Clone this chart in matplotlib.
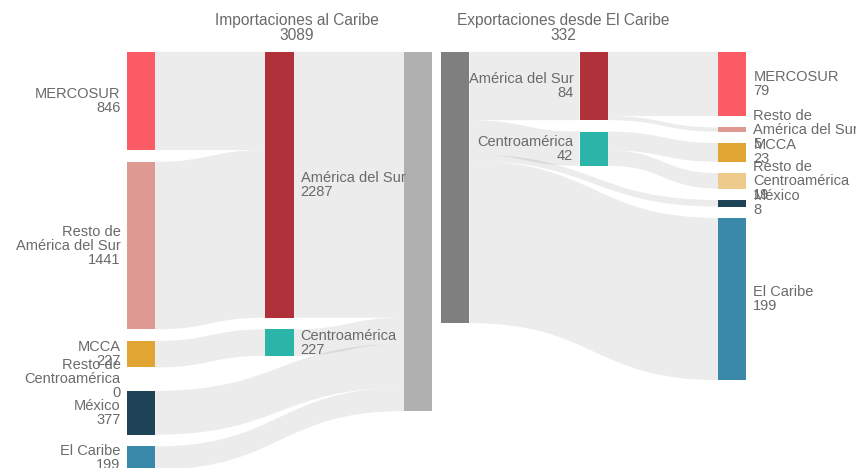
import matplotlib.pyplot as plt
from matplotlib.path import Path
from matplotlib.patches import PathPatch, Rectangle

plt.rcParams['font.family'] = ['Liberation Sans', 'DejaVu Sans']

# Importaciones al Caribe (origen -> subregion -> total)
imp_origen = ['MERCOSUR', 'Resto de\nAmérica del Sur', 'MCCA',
              'Resto de\nCentroamérica', 'México', 'El Caribe']
imp_origen_val = [846, 1441, 227, 0, 377, 199]
imp_origen_region = [0, 0, 1, 1, None, None]   # None = va directo al total
imp_region = ['América del Sur', 'Centroamérica']
imp_region_val = [2287, 227]
imp_total = 3089

# Exportaciones desde El Caribe (total -> subregion -> destino)
exp_region = ['América del Sur', 'Centroamérica']
exp_region_val = [84, 42]
exp_destino = ['MERCOSUR', 'Resto de\nAmérica del Sur', 'MCCA',
               'Resto de\nCentroamérica', 'México', 'El Caribe']
exp_destino_val = [79, 5, 23, 19, 8, 199]
exp_destino_region = [0, 0, 1, 1, None, None]
exp_total = 332

col_pais = ['#fc5c65', '#de9a92', '#e0a532', '#eccb8c', '#1e4256', '#3b89aa']
col_region = ['#b1313b', '#2bb5a8']
txt_color = '#6a6a6a'
link_color = (0, 0, 0, 0.075)
NODE_W = 0.205


def draw_sankey(ax, nodes, links, gap):
    # nodes: list of [label, col, color, side]; links: (src, tgt, value)
    n = len(nodes)
    vin = [0] * n
    vout = [0] * n
    for s, t, v in links:
        vout[s] += v
        vin[t] += v
    h = [max(vin[i], vout[i]) for i in range(n)]
    y = [0] * n
    tops = {}
    for i, nd in enumerate(nodes):
        c = nd[1]
        y[i] = tops.get(c, 0)
        tops[c] = y[i] + h[i] + gap

    # links, stacked by position of the other end
    out_off = list(y)
    in_off = list(y)
    s_pos = {}
    for k in sorted(range(len(links)), key=lambda k: y[links[k][1]]):
        s = links[k][0]
        s_pos[k] = out_off[s]
        out_off[s] += links[k][2]
    t_pos = {}
    for k in sorted(range(len(links)), key=lambda k: y[links[k][0]]):
        t = links[k][1]
        t_pos[k] = in_off[t]
        in_off[t] += links[k][2]
    for k, (s, t, v) in enumerate(links):
        x1 = nodes[s][1] + NODE_W
        x2 = nodes[t][1]
        xm = (x1 + x2) / 2
        y1, y2 = s_pos[k], t_pos[k]
        verts = [(x1, y1), (xm, y1), (xm, y2), (x2, y2),
                 (x2, y2 + v), (xm, y2 + v), (xm, y1 + v), (x1, y1 + v), (x1, y1)]
        codes = [Path.MOVETO, Path.CURVE4, Path.CURVE4, Path.CURVE4,
                 Path.LINETO, Path.CURVE4, Path.CURVE4, Path.CURVE4, Path.CLOSEPOLY]
        ax.add_patch(PathPatch(Path(verts, codes), fc=link_color, lw=0))

    for i, (label, c, color, side) in enumerate(nodes):
        if h[i] > 0:
            ax.add_patch(Rectangle((c, y[i]), NODE_W, h[i], fc=color, ec='none'))
        if side == 'left':
            ax.text(c - 0.045, y[i] + h[i] / 2, label, ha='right', va='center',
                    fontsize=10.5, color=txt_color, linespacing=1.0)
        elif side == 'right':
            ax.text(c + NODE_W + 0.05, y[i] + h[i] / 2, label, ha='left', va='center',
                    fontsize=10.5, color=txt_color, linespacing=1.0)


fig = plt.figure(figsize=(8.56, 4.68), dpi=100)

# --- importaciones ---
ax1 = fig.add_axes([0, 0, 436 / 856, 1])
nodes = []
for i, name in enumerate(imp_origen):
    nodes.append([name + '\n' + str(imp_origen_val[i]), 0, col_pais[i], 'left'])
for r, name in enumerate(imp_region):
    nodes.append([name + '\n' + str(imp_region_val[r]), 1, col_region[r], 'right'])
nodes.append(['', 2, '#b0b0b0', None])
tot = len(nodes) - 1
links = []
for i, r in enumerate(imp_origen_region):
    links.append((i, tot if r is None else len(imp_origen) + r, imp_origen_val[i]))
for r in range(len(imp_region)):
    links.append((len(imp_origen) + r, tot, imp_region_val[r]))
draw_sankey(ax1, nodes, links, gap=100.6)
ax1.set_xlim(-0.914, 2.231)
ax1.set_ylim(3579.5, -444.5)
ax1.axis('off')

# --- exportaciones ---
ax2 = fig.add_axes([436 / 856, 0, 420 / 856, 1])
nodes = [['', 0, '#7f7f7f', None]]
for r, name in enumerate(exp_region):
    nodes.append([name + '\n' + str(exp_region_val[r]), 1, col_region[r], 'left'])
for i, name in enumerate(exp_destino):
    nodes.append([name + '\n' + str(exp_destino_val[i]), 2, col_pais[i], 'right'])
links = []
first = 1 + len(exp_region)
for r in range(len(exp_region)):
    links.append((0, 1 + r, exp_region_val[r]))
for i, r in enumerate(exp_destino_region):
    links.append((0 if r is None else 1 + r, first + i, exp_destino_val[i]))
draw_sankey(ax2, nodes, links, gap=14.0)
ax2.set_xlim(-0.036, 2.996)
ax2.set_ylim(510.8, -63.4)
ax2.axis('off')

fig.text(297 / 856, 1 - 28 / 468, 'Importaciones al Caribe\n' + str(imp_total),
         ha='center', va='center', fontsize=11.2, color=txt_color, linespacing=1.0)
fig.text(563 / 856, 1 - 28 / 468, 'Exportaciones desde El Caribe\n' + str(exp_total),
         ha='center', va='center', fontsize=11.2, color=txt_color, linespacing=1.0)

fig.savefig('out.png', dpi=100)
